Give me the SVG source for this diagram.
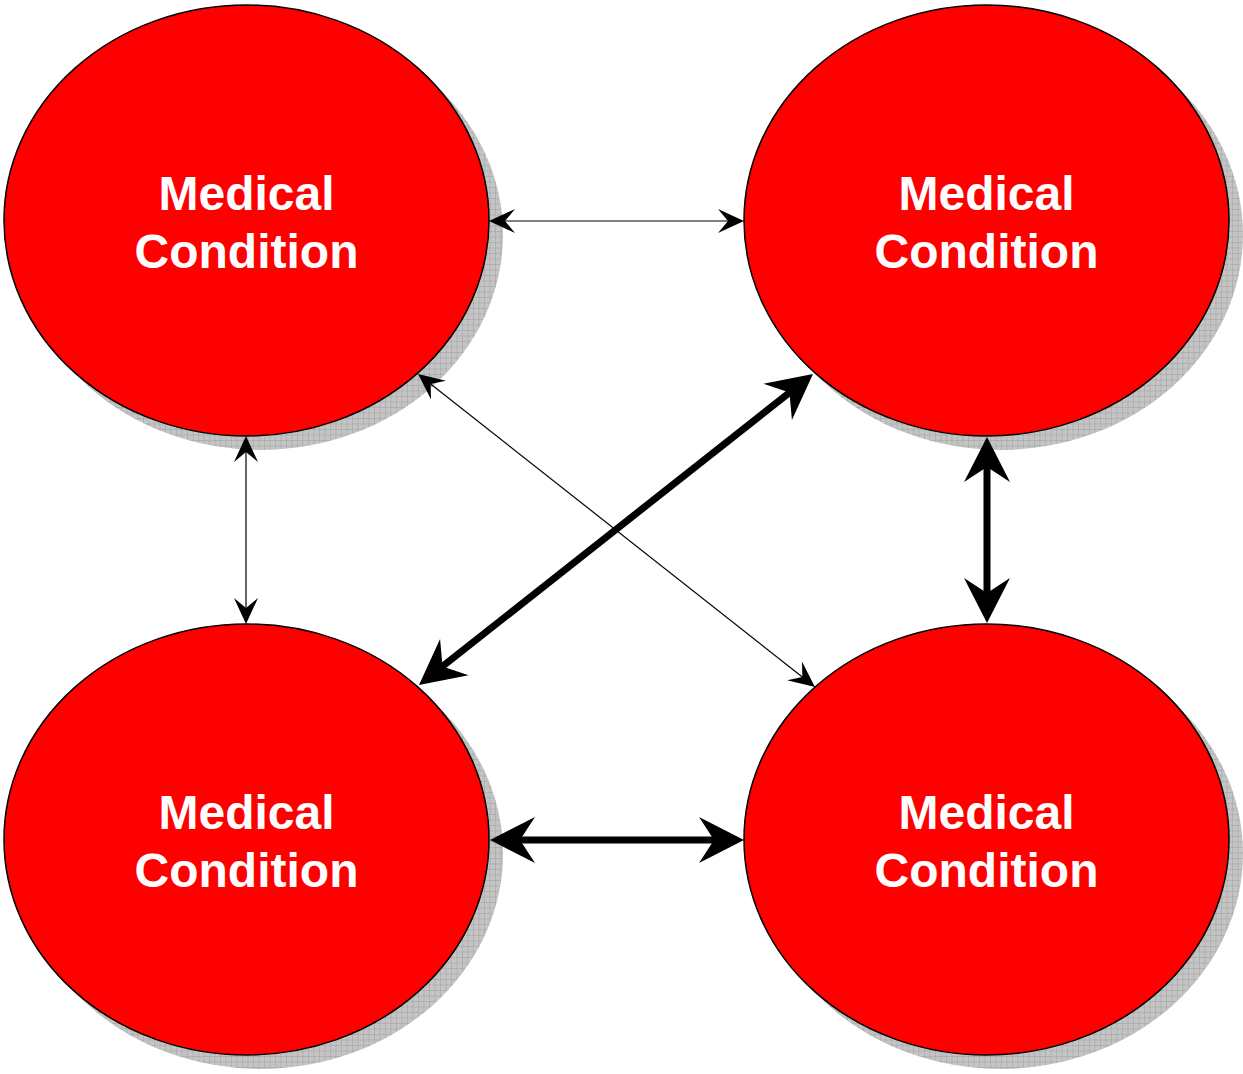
<svg xmlns="http://www.w3.org/2000/svg" width="1243" height="1074" viewBox="0 0 1243 1074">
<style>
.shadow{fill:url(#grid);stroke:none}
.node{fill:#ff0000;stroke:#000;stroke-width:1.5}
.label{font-family:"Liberation Sans",Arial,sans-serif;font-weight:bold;font-size:48px;fill:#fff;text-anchor:middle}
.thin{stroke:#000;stroke-width:1.2;fill:none;marker-start:url(#ah-thin);marker-end:url(#ah-thin)}
.thick{stroke:#000;stroke-width:7;fill:none;marker-start:url(#ah-thick);marker-end:url(#ah-thick)}
</style>
<defs>
<pattern id="grid" width="5.5" height="5.5" patternUnits="userSpaceOnUse">
<rect width="5.5" height="5.5" fill="#c4c4c4"/>
<path d="M0,0 H5.5 M0,0 V5.5" stroke="#969696" stroke-width="0.8" fill="none"/>
</pattern>
<marker id="ah-thin" markerUnits="userSpaceOnUse" orient="auto-start-reverse" refX="0" refY="0" markerWidth="40" markerHeight="40" overflow="visible">
<path d="M10,0 L-16,-12 L-6,0 L-16,12 Z" fill="#000"/>
</marker>
<marker id="ah-thick" markerUnits="userSpaceOnUse" orient="auto-start-reverse" refX="0" refY="0" markerWidth="60" markerHeight="60" overflow="visible">
<path d="M20,0 L-25,-23 L-10,0 L-25,23 Z" fill="#000"/>
</marker>
</defs>
<g id="n1">
<ellipse class="shadow" cx="260.5" cy="234.5" rx="242.5" ry="215.5"/>
<ellipse class="node" cx="246.5" cy="220.5" rx="242.5" ry="215.5"/>
<text class="label" x="246.5" y="210">Medical</text>
<text class="label" x="246.5" y="268">Condition</text>
</g>
<g id="n2">
<ellipse class="shadow" cx="1000.5" cy="234.5" rx="242.5" ry="215.5"/>
<ellipse class="node" cx="986.5" cy="220.5" rx="242.5" ry="215.5"/>
<text class="label" x="986.5" y="210">Medical</text>
<text class="label" x="986.5" y="268">Condition</text>
</g>
<g id="n3">
<ellipse class="shadow" cx="260.5" cy="853.5" rx="242.5" ry="215.5"/>
<ellipse class="node" cx="246.5" cy="839.5" rx="242.5" ry="215.5"/>
<text class="label" x="246.5" y="829">Medical</text>
<text class="label" x="246.5" y="887">Condition</text>
</g>
<g id="n4">
<ellipse class="shadow" cx="1000.5" cy="853.5" rx="242.5" ry="215.5"/>
<ellipse class="node" cx="986.5" cy="839.5" rx="242.5" ry="215.5"/>
<text class="label" x="986.5" y="829">Medical</text>
<text class="label" x="986.5" y="887">Condition</text>
</g>
<g id="connectors">
<path class="thin" d="M499,221 L734,221"/>
<path class="thin" d="M246,446 L246,614"/>
<path class="thin" d="M425.9,380.2 L807.1,680.8"/>
<path class="thick" d="M434.7,672.6 L797.3,386.4"/>
<path class="thick" d="M987,457 L987,603"/>
<path class="thick" d="M510,840 L724,840"/>
</g>
</svg>
